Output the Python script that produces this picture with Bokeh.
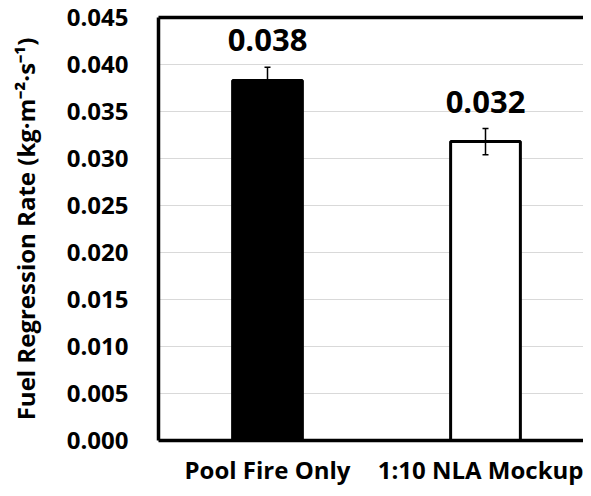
from bokeh.plotting import figure
from bokeh.models import ColumnDataSource, Range1d, LinearAxis, FixedTicker, Whisker, TeeHead, NumeralTickFormatter
from bokeh.core.properties import value
from bokeh.embed import file_html
from bokeh.resources import INLINE

categories = ["Pool Fire Only", "1:10 NLA Mockup"]
rates = [0.0383, 0.0318]
errors = [0.0014, 0.0014]
value_labels = ["0.038", "0.032"]
fill_colors = ["black", "white"]
y_ticks = [0.000, 0.005, 0.010, 0.015, 0.020, 0.025, 0.030, 0.035, 0.040, 0.045]
grid_ticks = [0.005, 0.010, 0.015, 0.020, 0.025, 0.030, 0.035, 0.040]

FONT = "Open Sans"

xs = [i + 0.5 for i in range(len(categories))]
src = ColumnDataSource(dict(
    x=xs, top=rates, label=value_labels, color=fill_colors,
    upper=[r + e for r, e in zip(rates, errors)],
    lower=[r - e for r, e in zip(rates, errors)],
))

W, H = 583, 488
LEFT, TOP, BOTTOM = 158, 17, 46
p = figure(width=W, height=H, output_backend="svg", toolbar_location=None,
           x_range=Range1d(0, (W - LEFT) / 218), y_range=Range1d(0, 0.045),
           min_border_left=LEFT, min_border_right=0, min_border_top=TOP,
           min_border_bottom=BOTTOM)
p.outline_line_color = None
p.background_fill_color = "white"

p.vbar(x="x", top="top", width=0.32, source=src, fill_color="color",
       line_color="black", line_width=3)

w = Whisker(source=src, base="x", upper="upper", lower="lower",
            line_color="black", line_width=1.5,
            upper_head=TeeHead(size=6, line_color="black", line_width=1.5),
            lower_head=TeeHead(size=6, line_color="black", line_width=1.5))
w.level = "annotation"
p.add_layout(w)

p.text(x="x", y="top", text="label", source=src, text_align="center",
       text_baseline="alphabetic", y_offset=-40, text_font=value(FONT),
       text_font_style="bold", text_font_size="31px", text_color="black")

# axes
p.xaxis.ticker = FixedTicker(ticks=xs)
p.xaxis.major_label_overrides = {x: c for x, c in zip(xs, categories)}
p.xaxis.major_tick_line_color = None
p.xaxis.major_tick_out = 0
p.xaxis.major_tick_in = 0
p.xaxis.minor_tick_line_color = None
p.xaxis.minor_tick_out = 0
p.xaxis.axis_line_width = 3.5
p.xaxis.axis_line_color = "black"
p.xaxis.major_label_text_font = FONT
p.xaxis.major_label_text_font_style = "bold"
p.xaxis.major_label_text_font_size = "24px"
p.xaxis.major_label_text_color = "black"
p.xaxis.major_label_standoff = 12

p.yaxis.ticker = FixedTicker(ticks=y_ticks)
p.yaxis.formatter = NumeralTickFormatter(format="0.000")
p.yaxis.major_tick_line_color = None
p.yaxis.major_tick_out = 0
p.yaxis.major_tick_in = 0
p.yaxis.minor_tick_line_color = None
p.yaxis.minor_tick_out = 0
p.yaxis.axis_line_width = 3.5
p.yaxis.axis_line_color = "black"
p.yaxis.major_label_text_font = FONT
p.yaxis.major_label_text_font_style = "bold"
p.yaxis.major_label_text_font_size = "24px"
p.yaxis.major_label_text_color = "black"
p.yaxis.major_label_standoff = 30
p.yaxis.axis_label = "Fuel Regression Rate (kg·m⁻²·s⁻¹)"
p.yaxis.axis_label_text_font = FONT
p.yaxis.axis_label_text_font_style = "bold"
p.yaxis.axis_label_text_font_size = "24px"
p.yaxis.axis_label_text_color = "black"
p.yaxis.axis_label_standoff = 22

top_axis = LinearAxis(ticker=FixedTicker(ticks=[]), axis_line_width=3.5,
                      axis_line_color="black", major_tick_line_color=None,
                      minor_tick_line_color=None, major_tick_out=0, major_tick_in=0,
                      minor_tick_out=0, major_label_standoff=0)
p.add_layout(top_axis, "above")

p.xgrid.grid_line_color = None
p.ygrid.ticker = FixedTicker(ticks=grid_ticks)
p.ygrid.grid_line_color = "#d9d9d9"
p.ygrid.grid_line_width = 1

open("out.html", "w").write(file_html(p, INLINE))
